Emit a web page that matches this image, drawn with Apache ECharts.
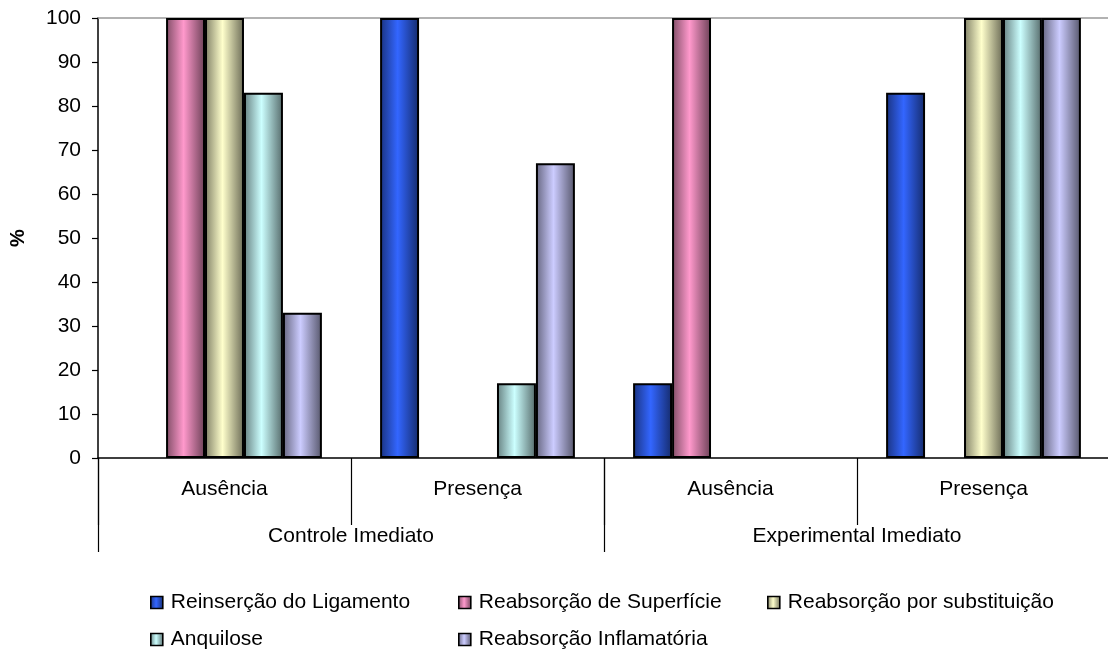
<!DOCTYPE html>
<html>
<head>
<meta charset="utf-8">
<script src="https://cdn.jsdelivr.net/npm/echarts@6/dist/echarts.min.js"></script>
<style>html,body{margin:0;padding:0;background:#fff;overflow:hidden;}#c{width:1116px;height:653px;}</style>
</head>
<body>
<div id="c"></div>
<script>
const subCategories = ['Ausência', 'Presença', 'Ausência', 'Presença'];
const groups = ['Controle Imediato', 'Experimental Imediato'];
const yTicks = [0, 10, 20, 30, 40, 50, 60, 70, 80, 90, 100];
const seriesNames = ['Reinserção do Ligamento', 'Reabsorção de Superfície', 'Reabsorção por substituição', 'Anquilose', 'Reabsorção Inflamatória'];
const reinsercao = [0, 100, 17, 83];
const superficie = [100, 0, 100, 0];
const substituicao = [100, 0, 0, 100];
const anquilose = [83, 17, 0, 100];
const inflamatoria = [33, 67, 0, 100];
const seriesValues = [reinsercao, superficie, substituicao, anquilose, inflamatoria];
const baseColors = ['#3366FF', '#FF99CC', '#FFFFCC', '#CCFFFF', '#CCCCFF'];

function shade(hex, f) {
  const n = parseInt(hex.slice(1), 16);
  const r = Math.round(((n >> 16) & 255) * f), g = Math.round(((n >> 8) & 255) * f), b = Math.round((n & 255) * f);
  return 'rgb(' + r + ',' + g + ',' + b + ')';
}
function grad(hex) {
  return new echarts.graphic.LinearGradient(0, 0, 1, 0, [
    { offset: 0, color: shade(hex, 0.5) },
    { offset: 0.45, color: hex },
    { offset: 1, color: shade(hex, 0.42) }
  ]);
}
const FONT = '"Liberation Sans", Arial, sans-serif';

const chart = echarts.init(document.getElementById('c'), null, { renderer: 'canvas' });

const legendPos = [[150, 592], [458, 592], [767, 592], [150, 629], [458, 629]];
const legends = seriesNames.map((n, i) => ({
  data: [{ name: n, icon: 'rect' }], left: legendPos[i][0], top: legendPos[i][1], orient: 'horizontal',
  itemWidth: 12, itemHeight: 12, padding: 0,
  itemStyle: { borderColor: '#000', borderWidth: 1.6 },
  textStyle: { fontFamily: FONT, fontSize: 21, color: '#000', padding: [0, 0, 0, 3] }
}));

chart.setOption({
  animation: false,
  backgroundColor: '#fff',
  textStyle: { fontFamily: FONT },
  grid: { left: 97, width: 1013, top: 18, bottom: 195, containLabel: false },
  legend: legends,
  xAxis: [
    {
      type: 'category', data: subCategories, position: 'bottom',
      axisLine: { show: true, lineStyle: { color: '#000', width: 1.5 } },
      axisTick: { show: true, length: 67, interval: 0, lineStyle: { color: '#000', width: 1.2 } },
      axisLabel: { fontFamily: FONT, fontSize: 21, color: '#000', margin: 21, interval: 0 }
    },
    {
      type: 'category', data: groups, position: 'bottom',
      axisLine: { show: false },
      axisTick: { show: true, length: 94, interval: 0, lineStyle: { color: '#000', width: 1.2 } },
      axisLabel: { fontFamily: FONT, fontSize: 21, color: '#000', margin: 68, interval: 0 }
    },
    {
      type: 'value', position: 'top', min: 0, max: 1,
      axisLine: { show: true, lineStyle: { color: '#999', width: 1.5 } },
      axisTick: { show: false }, axisLabel: { show: false }, splitLine: { show: false }
    }
  ],
  yAxis: {
    type: 'value', min: yTicks[0], max: yTicks[yTicks.length - 1], interval: 10,
    name: '%', nameLocation: 'middle', nameRotate: 90, nameGap: 70,
    nameTextStyle: { fontFamily: FONT, fontSize: 20, fontWeight: 'bold', color: '#000' },
    axisLine: { show: true, lineStyle: { color: '#000', width: 1.5 } },
    axisTick: { show: true, length: 6, lineStyle: { color: '#000', width: 1.2 } },
    axisLabel: { fontFamily: FONT, fontSize: 21, color: '#000', margin: 17 },
    splitLine: { show: false }
  },
  series: seriesNames.map((n, i) => ({
    name: n, type: 'bar', xAxisIndex: 0,
    data: seriesValues[i].map(v => v === 0 ? '-' : v),
    barGap: '0%', barCategoryGap: '23%',
    itemStyle: { color: grad(baseColors[i]), borderColor: '#000', borderWidth: 2 }
  }))
});
</script>
</body>
</html>
